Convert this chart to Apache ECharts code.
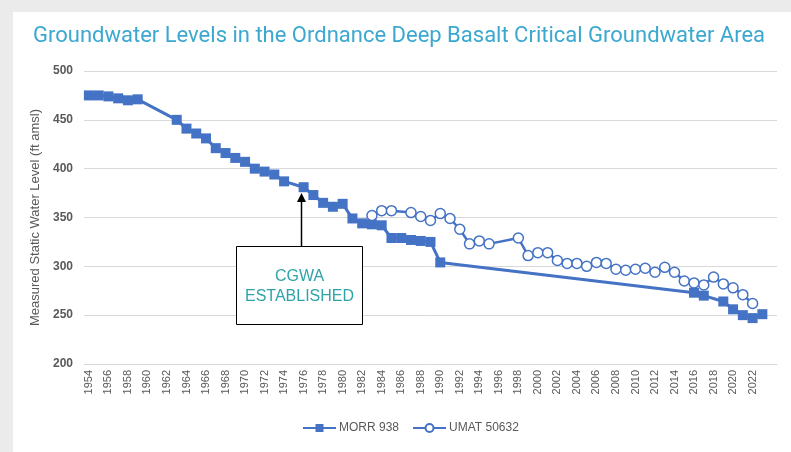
<!DOCTYPE html>
<html>
<head>
<meta charset="utf-8">
<script src="https://cdn.jsdelivr.net/npm/echarts@6/dist/echarts.min.js"></script>
<style>
html,body{margin:0;padding:0;background:#fff;}
#c{width:791px;height:452px;}
</style>
</head>
<body>
<div id="c"></div>
<script>
// ---- Data ----
const TITLE = 'Groundwater Levels in the Ordnance Deep Basalt Critical Groundwater Area';
const Y_LABEL = 'Measured Static Water Level (ft amsl)';
const CATEGORY_YEARS = [];
for (let y = 1954; y <= 2024; y++) CATEGORY_YEARS.push(String(y));

const MORR_NAME = 'MORR 938';
const MORR_YEARS = [1954, 1955, 1956, 1957, 1958, 1959, 1963, 1964, 1965, 1966, 1967, 1968, 1969, 1970, 1971, 1972, 1973, 1974, 1976, 1977, 1978, 1979, 1980, 1981, 1982, 1983, 1984, 1985, 1986, 1987, 1988, 1989, 1990, 2016, 2017, 2019, 2020, 2021, 2022, 2023];
const MORR_LEVELS = [475, 475, 474, 472, 470, 471, 450, 441, 436, 431, 421, 416, 411, 407, 400, 397, 394, 387, 381, 373, 365, 361, 364, 349, 344, 343, 342, 329, 329, 327, 326, 325, 304, 273, 270, 264, 256, 250, 247, 251];

const UMAT_NAME = 'UMAT 50632';
const UMAT_YEARS = [1983, 1984, 1985, 1987, 1988, 1989, 1990, 1991, 1992, 1993, 1994, 1995, 1998, 1999, 2000, 2001, 2002, 2003, 2004, 2005, 2006, 2007, 2008, 2009, 2010, 2011, 2012, 2013, 2014, 2015, 2016, 2017, 2018, 2019, 2020, 2021, 2022];
const UMAT_LEVELS = [352, 357, 357, 355, 351, 347, 354, 349, 338, 323, 326, 323, 329, 311, 314, 314, 306, 303, 303, 300, 304, 303, 297, 296, 297, 298, 294, 299, 294, 285, 283, 281, 289, 282, 278, 271, 262];

const ANNOT_TEXT = 'CGWA\nESTABLISHED';
const ANNOT_YEAR = 1975.7;      // arrow points at CGWA establishment
const ANNOT_TIP = 375;          // arrow tip level
const ANNOT_BOX = {x0: 1969.1, x1: 1982.0, y0: 321, y1: 241};

const pairs = (xs, ys) => xs.map((x, i) => [x, ys[i]]);
const BLUE = '#4472C4';
const GRAY = '#595959';

const chart = echarts.init(document.getElementById('c'));
chart.setOption({
  backgroundColor: '#ffffff',
  animation: false,
  title: {
    text: TITLE, left: 28, top: 20,
    textStyle: {color: '#3BA8D0', fontSize: 22, fontWeight: 'normal', fontFamily: 'Roboto'}
  },
  grid: {left: 84, right: 14, top: 71, bottom: 88, containLabel: false},
  legend: {
    bottom: 13, left: 297, itemWidth: 33, itemHeight: 10, itemGap: 13,
    textStyle: {color: GRAY, fontSize: 12, fontFamily: 'Liberation Sans', padding: [0, 0, 0, -2]},
    data: [MORR_NAME, UMAT_NAME]
  },
  xAxis: [
    {
      type: 'category', data: CATEGORY_YEARS, boundaryGap: true,
      axisLine: {lineStyle: {color: '#d9d9d9', width: 1}},
      axisTick: {show: false},
      axisLabel: {
        rotate: 90, color: GRAY, fontSize: 11, fontFamily: 'Liberation Sans', margin: 6,
        interval: (i, v) => i % 2 === 0 && v !== '2024'
      }
    },
    {
      type: 'value', min: 1953.5, max: 2024.5, show: false,
      splitLine: {show: false}
    }
  ],
  yAxis: {
    type: 'value', min: 200, max: 500, interval: 50,
    axisLine: {show: false}, axisTick: {show: false},
    axisLabel: {color: GRAY, fontSize: 12, fontWeight: 'bold', fontFamily: 'Liberation Sans', margin: 11},
    splitLine: {lineStyle: {color: '#d9d9d9', width: 1}},
    name: Y_LABEL, nameLocation: 'middle', nameGap: 39, nameRotate: 90,
    nameTextStyle: {color: GRAY, fontSize: 13, fontFamily: 'Liberation Sans'}
  },
  series: [
    {
      name: MORR_NAME, type: 'line', xAxisIndex: 1, data: pairs(MORR_YEARS, MORR_LEVELS),
      symbol: 'rect', symbolSize: 10, showAllSymbol: true,
      lineStyle: {color: BLUE, width: 3}, itemStyle: {color: BLUE}, z: 2
    },
    {
      name: UMAT_NAME, type: 'line', xAxisIndex: 1, data: pairs(UMAT_YEARS, UMAT_LEVELS),
      symbol: 'circle', symbolSize: 10, showAllSymbol: true,
      lineStyle: {color: BLUE, width: 2.5}, itemStyle: {color: '#ffffff', borderColor: BLUE, borderWidth: 1.5}, z: 3
    }
  ]
});

function px(x, y) { return chart.convertToPixel({xAxisIndex: 1, yAxisIndex: 0}, [x, y]); }
const b0 = px(ANNOT_BOX.x0, ANNOT_BOX.y0), b1 = px(ANNOT_BOX.x1, ANNOT_BOX.y1);
const tip = px(ANNOT_YEAR, ANNOT_TIP);
const bx = Math.round(b0[0]) + 0.5, by = Math.round(b0[1]) + 0.5;
const bw = Math.round(b1[0] - b0[0]), bh = Math.round(b1[1] - b0[1]);
const ax = Math.round(tip[0]) + 0.5, ay = tip[1];
chart.setOption({
  graphic: [
    {type: 'rect', shape: {x: 0, y: 0, width: 791, height: 12}, style: {fill: '#ebebeb'}, z: 0, silent: true},
    {type: 'rect', shape: {x: 0, y: 0, width: 13, height: 452}, style: {fill: '#ebebeb'}, z: 0, silent: true},
    {type: 'line', shape: {x1: ax, y1: by, x2: ax, y2: ay + 6}, style: {stroke: '#000', lineWidth: 1.5}, z: 10},
    {type: 'polygon', shape: {points: [[ax, ay], [ax - 4.5, ay + 9], [ax + 4.5, ay + 9]]}, style: {fill: '#000'}, z: 10},
    {type: 'rect', shape: {x: bx, y: by, width: bw, height: bh}, style: {fill: '#fff', stroke: '#000', lineWidth: 1}, z: 10},
    {type: 'text', x: bx + bw / 2, y: by + bh / 2 + 1, style: {text: ANNOT_TEXT, fill: '#2FA4A8', font: '16px "Liberation Sans"', align: 'center', verticalAlign: 'middle', lineHeight: 20}, z: 11}
  ]
});
</script>
</body>
</html>
